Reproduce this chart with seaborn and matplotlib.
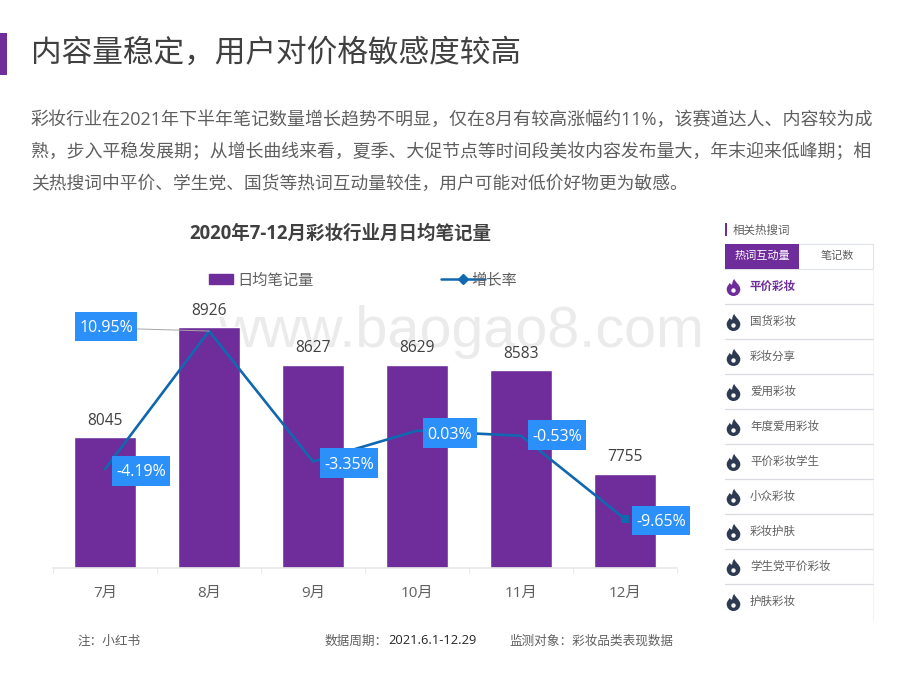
#!/usr/bin/env python3
import matplotlib
matplotlib.use('Agg')
import matplotlib.pyplot as plt
import seaborn as sns
from matplotlib.lines import Line2D
from matplotlib.patches import Patch, Rectangle
from matplotlib.path import Path

# data
months = ['7月', '8月', '9月', '10月', '11月', '12月']
daily_notes = [8045, 8926, 8627, 8629, 8583, 7755]
growth = [-4.19, 10.95, -3.35, 0.03, -0.53, -9.65]
growth_labels = ['-4.19%', '10.95%', '-3.35%', '0.03%', '-0.53%', '-9.65%']
keywords = ['平价彩妆', '国货彩妆', '彩妆分享', '爱用彩妆', '年度爱用彩妆',
            '平价彩妆学生', '小众彩妆', '彩妆护肤', '学生党平价彩妆', '护肤彩妆']

title = '内容量稳定，用户对价格敏感度较高'
body_lines = [
    '彩妆行业在2021年下半年笔记数量增长趋势不明显，仅在8月有较高涨幅约11%，该赛道达人、内容较为成',
    '熟，步入平稳发展期；从增长曲线来看，夏季、大促节点等时间段美妆内容发布量大，年末迎来低峰期；相',
    '关热搜词中平价、学生党、国货等热词互动量较佳，用户可能对低价好物更为敏感。',
]
chart_title = '2020年7-12月彩妆行业月日均笔记量'

# label box offsets from the line points, in pixels
label_offsets = [(36, -3), (-103, 3), (36, -3), (33, -4), (36, -1), (36, -3)]
body_sizes = [12.97, 12.92, 12.75]

PURPLE = '#6f2c9b'
LINE_BLUE = '#1068b0'
BOX_BLUE = '#2b90f9'
GRAY = '#5f5f5f'
DARK = '#404040'


def label_box(x0, y0, width, height, mutation_size):
    # rectangle with less side padding than the square box style
    padx = 0.28 * mutation_size
    top = 0.52 * mutation_size
    bottom = 0.34 * mutation_size
    x1, y1 = x0 - padx, y0 - bottom
    x2, y2 = x0 + width + padx, y0 + height + top
    return Path([(x1, y1), (x2, y1), (x2, y2), (x1, y2), (x1, y1)], closed=True)


sns.set_theme(style='white')
plt.rcParams['font.family'] = ['Open Sans', 'Noto Sans CJK SC', 'DejaVu Sans']

fig = plt.figure(figsize=(9.2, 6.9), dpi=100, facecolor='white')

# background layer in pixel coordinates
bg = fig.add_axes([0, 0, 1, 1], zorder=0)
bg.set_xlim(0, 920)
bg.set_ylim(690, 0)
bg.axis('off')

bg.add_patch(Rectangle((0, 33), 7, 42, color=PURPLE, lw=0))
bg.text(31, 54, title, fontsize=22.1, color=DARK, va='center')
for y, line, size in zip([125, 157, 189], body_lines, body_sizes):
    bg.text(31, y, line, fontsize=size, color=GRAY, va='baseline')
bg.text(340, 234, chart_title, fontsize=13.35, color=DARK, weight='bold', ha='center', va='center')
bg.text(461, 332, 'www.baogao8.com', fontsize=41.4, color='#ebebeb', family='Liberation Sans',
        ha='center', va='center')

# legends
leg1 = bg.legend(handles=[Patch(color=PURPLE, label='日均笔记量')], loc='center left',
                 bbox_to_anchor=(209, 281), bbox_transform=bg.transData, frameon=False,
                 fontsize=11, labelcolor=GRAY, handlelength=1.57, handleheight=0.6,
                 handletextpad=0.3, borderpad=0, borderaxespad=0)
bg.add_artist(leg1)
bg.legend(handles=[Line2D([], [], color=LINE_BLUE, lw=1.8, marker='D', markersize=5, label='增长率')],
          loc='center left', bbox_to_anchor=(441, 281), bbox_transform=bg.transData, frameon=False,
          fontsize=11, labelcolor=GRAY, handlelength=2.9, handletextpad=-0.9,
          borderpad=0, borderaxespad=0)

# side panel
bg.add_patch(Rectangle((725, 223), 2.5, 13, color=PURPLE, lw=0))
bg.text(733, 230, '相关热搜词', fontsize=8.3, color=GRAY, va='center')
bg.add_patch(Rectangle((725, 244), 148, 25, fc='white', ec='#dfe3ea', lw=0.8))
bg.add_patch(Rectangle((725, 244), 74, 25, color=PURPLE, lw=0))
bg.text(762, 256, '热词互动量', fontsize=8, color='white', ha='center', va='center')
bg.text(837, 256, '笔记数', fontsize=8, color=GRAY, ha='center', va='center')
bg.plot([873, 873], [269, 620], color='#f3f3f3', lw=0.8)

flame = Path(
    [(0, -1), (-0.5, -1), (-0.8, -0.6), (-0.8, -0.2), (-0.8, 0.15), (-0.55, 0.3), (-0.45, 0.55),
     (-0.3, 0.3), (-0.2, 0.3), (-0.15, 0.4), (-0.15, 0.6), (-0.05, 0.9), (0.1, 1),
     (0.2, 0.6), (0.8, 0.3), (0.8, -0.2), (0.8, -0.6), (0.5, -1), (0, -1)],
    [Path.MOVETO] + [Path.CURVE4] * 18)
for i, word in enumerate(keywords):
    y = 286 + 35 * i
    first = i == 0
    col = PURPLE if first else '#2e3a52'
    bg.scatter([733], [y + 1], marker=flame, s=150, color=col, linewidths=0)
    bg.scatter([733], [y + 3.5], marker='o', s=10, color='white', linewidths=0)
    bg.text(750, y, word, fontsize=8.3, color=PURPLE if first else GRAY, va='center',
            weight='bold' if first else 'normal')
    if i < len(keywords) - 1:
        bg.plot([725, 873], [y + 18, y + 18], color='#d9dce3', lw=0.9)

# footer
bg.text(78, 641, '注：小红书', fontsize=9.1, color=GRAY, va='center')
bg.text(325, 641, '数据周期：', fontsize=9.1, color=GRAY, va='center')
bg.text(388, 641, '2021.6.1-12.29', fontsize=9.3, color='#262626', va='center')
bg.text(509, 641, '监测对象：彩妆品类表现数据', fontsize=9.05, color=GRAY, va='center')

# chart
ax = fig.add_axes([53 / 920, (690 - 568) / 690, 624 / 920, 268 / 690], zorder=1)
ax.set_facecolor('none')
sns.barplot(x=months, y=daily_notes, color=PURPLE, saturation=1, width=0.587, ax=ax)
ax.set_xlim(-0.5, 5.5)
ax.set_ylim(7000, 9146)
ax.bar_label(ax.containers[0], labels=[str(v) for v in daily_notes], padding=6,
             fontsize=11.2, color=DARK)
ax.set_xlabel('')
ax.set_ylabel('')
ax.set_yticks([])
sns.despine(ax=ax, left=True)
ax.spines['bottom'].set_color('#e8e8e8')
ax.set_xticks(range(len(months)))
ax.set_xticklabels(months, fontsize=11, color=GRAY)
ax.set_xticks([i - 0.5 for i in range(len(months) + 1)], minor=True)
ax.tick_params(axis='x', which='major', length=0, pad=13)
ax.tick_params(axis='x', which='minor', bottom=True, length=3.5, width=0.7, color='#e8e8e8')

ax2 = ax.twinx()
ax2.set_facecolor('none')
sns.lineplot(x=months, y=growth, sort=False, color=LINE_BLUE, lw=1.9, marker='s',
             markersize=6, markeredgewidth=0, markevery=[5], ax=ax2)
ax2.set_ylim(-15.02, 14.35)
ax2.set_yticks([])
ax2.set_ylabel('')
sns.despine(ax=ax2, left=True, right=True, top=True, bottom=True)

for i, (txt, off) in enumerate(zip(growth_labels, label_offsets)):
    arrow = dict(arrowstyle='-', color='#a6a6a6', lw=0.7, shrinkA=0, shrinkB=0) if growth[i] > 10 else None
    ax2.annotate(txt, (i, growth[i]), xytext=off, textcoords='offset pixels', ha='center', va='center',
                 fontsize=11.5, color='white', arrowprops=arrow,
                 bbox=dict(boxstyle=label_box, fc=BOX_BLUE, ec='none'))

fig.savefig('out.png', dpi=100)
